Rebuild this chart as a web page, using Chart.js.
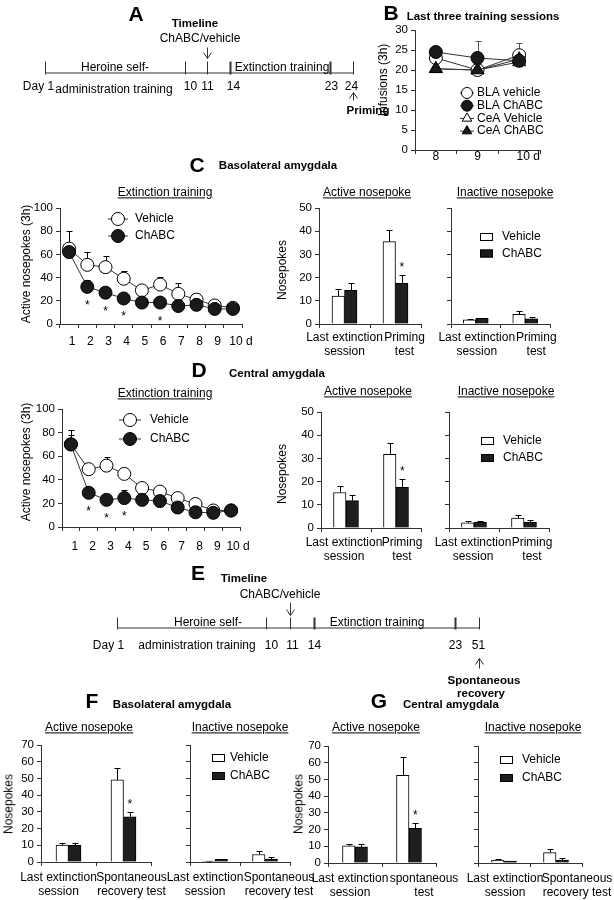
<!DOCTYPE html>
<html>
<head>
<meta charset="utf-8">
<script src="https://cdn.jsdelivr.net/npm/chart.js"></script>
<style>
html, body { margin: 0; padding: 0; background: #fff; }
#fig { position: relative; width: 614px; height: 900px; overflow: hidden; font-family: 'Liberation Sans', Arial, sans-serif; color: #000; }
#fig canvas { position: absolute; left: 0; top: 0; }
.t { position: absolute; white-space: nowrap; transform: translate(-50%, -50%); font-size: 12px; line-height: 1.1; }
.b { font-weight: bold; font-size: 11.5px; }
.u { text-decoration: underline; }
.big { font-size: 21px; font-weight: bold; }
.rot { transform: translate(-50%, -50%) rotate(-90deg); }
</style>
</head>
<body>
<div id="fig"></div>
<script>
// ---- data ----
const timelineADays = ['Day 1', '10', '11', '14', '23', '24'];
const timelineEDays = ['Day 1', '10', '11', '14', '23', '51'];

const trainDays = ['8', '9', '10 d'];
const blaVehTrain = [23, 20, 23.7];
const blaVehTrainErr = [0.8, 0.5, 3];
const blaChTrain = [24.5, 23, 22.3];
const blaChTrainErr = [0.5, 4.3, 0.8];
const ceaVehTrain = [20.3, 20, 22];
const ceaVehTrainErr = [0.8, 0.5, 0.8];
const ceaChTrain = [20.3, 20, 22.7];
const ceaChTrainErr = [0.8, 0.5, 0.8];

const extDays = ['1', '2', '3', '4', '5', '6', '7', '8', '9', '10 d'];
const blaExtVeh = [65, 51, 49, 39, 29, 34, 26, 21, 16, 14];
const blaExtVehErr = [15, 11, 10, 7, 3, 6.5, 9, 2, 2, 1];
const blaExtCh = [62, 32, 27, 22, 18.5, 18.5, 15.5, 16.5, 13, 13];
const blaExtChErr = [2, 5.6, 2, 2, 2, 2, 1, 1, 1, 1];
const blaExtSig = [1, 2, 3, 5];

const ceaExtVeh = [70, 49, 52, 45, 33, 30, 24.5, 19.5, 14, 14];
const ceaExtVehErr = [12.5, 3.5, 7.3, 3, 2, 2, 2, 2, 1, 1];
const ceaExtCh = [70, 29, 23, 24.5, 23, 22, 16.5, 12.5, 12, 14];
const ceaExtChErr = [8, 2, 2, 7, 2, 2, 2, 1, 1, 1];
const ceaExtSig = [1, 2, 3];

const primeCats = [['Last extinction', 'session'], ['Priming', 'test']];
const blaPrimeActVeh = [12, 35.5], blaPrimeActVehErr = [3, 5];
const blaPrimeActCh = [14.5, 17.5], blaPrimeActChErr = [3, 3.5];
const blaPrimeInVeh = [1.8, 4.2], blaPrimeInVehErr = [0.3, 1.2];
const blaPrimeInCh = [2.4, 2.2], blaPrimeInChErr = [0.2, 0.9];
const ceaPrimeActVeh = [15.3, 31.8], ceaPrimeActVehErr = [2.7, 4.7];
const ceaPrimeActCh = [11.8, 17.5], ceaPrimeActChErr = [2.5, 3.8];
const ceaPrimeInVeh = [2.2, 4.3], ceaPrimeInVehErr = [0.9, 1.3];
const ceaPrimeInCh = [2.6, 2.6], ceaPrimeInChErr = [0.5, 0.8];
const primeSig = [1];

const srCats = [['Last extinction', 'session'], ['Spontaneous', 'recovery test']];
const srCatsG = [['Last extinction', 'session'], ['spontaneous', 'test']];
const blaSrActVeh = [10.1, 49.1], blaSrActVehErr = [1.3, 7];
const blaSrActCh = [9.9, 27], blaSrActChErr = [1.5, 3];
const blaSrInVeh = [0.5, 4.5], blaSrInVehErr = [0.2, 1.8];
const blaSrInCh = [1.6, 1.8], blaSrInChErr = [0.3, 1.3];
const ceaSrActVeh = [10.3, 52.5], ceaSrActVehErr = [1.2, 11];
const ceaSrActCh = [9.7, 20.8], ceaSrActChErr = [1.4, 3.4];
const ceaSrInVeh = [1.8, 6.2], ceaSrInVehErr = [0.3, 2.1];
const ceaSrInCh = [1.1, 1.8], ceaSrInChErr = [0.3, 1.2];
const srSig = [1];

// ---- setup ----
const W = 614, H = 900;
const FONT = "'Liberation Sans', Arial, sans-serif";
const fig = document.getElementById('fig');
Chart.defaults.font.family = FONT;
Chart.defaults.font.size = 12;
Chart.defaults.color = '#000';
Chart.defaults.animation = false;
Chart.defaults.events = [];
Chart.defaults.plugins.legend.display = false;
Chart.defaults.plugins.tooltip.enabled = false;

function addChart(cfg) {
    const c = document.createElement('canvas');
    c.width = W;
    c.height = H;
    fig.appendChild(c);
    cfg.options.responsive = false;
    return new Chart(c, cfg);
}

function text(x, y, s, cls) {
    const d = document.createElement('div');
    d.className = 't ' + (cls || '');
    d.style.left = x + 'px';
    d.style.top = y + 'px';
    d.textContent = s;
    fig.appendChild(d);
}

// chart area given in page pixels, every canvas covers the whole page
function frame(area, yw, xh) {
    return {
        autoPadding: false,
        padding: { left: area.l - yw, top: area.t, right: W - area.r, bottom: H - area.b - xh }
    };
}

function yAxis(yw, max, step, labels) {
    return {
        min: 0, max: max,
        ticks: { stepSize: step, display: labels, autoSkip: false, padding: 3, font: { size: 11.5 } },
        grid: { drawOnChartArea: false, tickLength: 4, color: '#333' },
        border: { color: '#333' },
        afterFit: s => { s.width = yw; }
    };
}

function xAxis(xh) {
    return {
        offset: true,
        ticks: { display: false },
        grid: { offset: true, drawOnChartArea: false, tickLength: 4, color: '#333' },
        border: { color: '#333' },
        afterFit: s => { s.height = xh; }
    };
}

// ---- plugins ----
const errorBars = {
    id: 'errorBars',
    beforeDatasetsDraw(chart) {
        const ctx = chart.ctx;
        chart.data.datasets.forEach((ds, i) => {
            if (!ds.errors) return;
            const meta = chart.getDatasetMeta(i);
            const ys = chart.scales[meta.yAxisID];
            ctx.save();
            ctx.strokeStyle = ds.errorColor || '#000';
            ctx.lineWidth = 1;
            meta.data.forEach((el, j) => {
                const e = ds.errors[j];
                if (!e) return;
                const x = Math.round(el.x) + 0.5;
                const y0 = ys.getPixelForValue(ds.data[j]);
                const y1 = Math.round(ys.getPixelForValue(ds.data[j] + e)) + 0.5;
                ctx.beginPath();
                ctx.moveTo(x, y0);
                ctx.lineTo(x, y1);
                ctx.moveTo(x - 3, y1);
                ctx.lineTo(x + 3, y1);
                ctx.stroke();
            });
            ctx.restore();
        });
    }
};

const sigStars = {
    id: 'sigStars',
    afterDatasetsDraw(chart) {
        const ctx = chart.ctx;
        const isBar = chart.config.type === 'bar';
        chart.data.datasets.forEach((ds, i) => {
            if (!ds.sig) return;
            const meta = chart.getDatasetMeta(i);
            const ys = chart.scales[meta.yAxisID];
            ctx.save();
            ctx.fillStyle = '#000';
            ctx.font = '12px ' + FONT;
            ctx.textAlign = 'center';
            ctx.textBaseline = 'alphabetic';
            ds.sig.forEach(j => {
                const el = meta.data[j];
                let yc;
                if (isBar) yc = ys.getPixelForValue(ds.data[j] + ds.errors[j]) - 11;
                else yc = el.y + 15;
                ctx.fillText('*', el.x, yc + 7);
            });
            ctx.restore();
        });
    }
};

function xLabels(o) {
    return {
        id: 'xLabels',
        afterDraw(chart) {
            const xs = chart.scales.x, ctx = chart.ctx;
            ctx.save();
            ctx.fillStyle = '#000';
            ctx.font = '12px ' + FONT;
            ctx.textAlign = 'center';
            ctx.textBaseline = 'middle';
            chart.data.labels.forEach((lab, i) => {
                const lines = Array.isArray(lab) ? lab : [lab];
                const x = xs.getPixelForValue(i) + (o.dx ? o.dx[i] : 0);
                lines.forEach((s, k) => ctx.fillText(s, x, xs.top + o.y + k * 14));
            });
            ctx.restore();
        }
    };
}

function keyBox(o) {
    return {
        id: 'keyBox',
        afterDraw(chart) {
            const ctx = chart.ctx;
            ctx.save();
            ctx.font = '12px ' + FONT;
            ctx.textBaseline = 'middle';
            ctx.textAlign = 'left';
            chart.data.datasets.forEach((ds, i) => {
                const y = o.y + i * o.gap;
                if (o.kind === 'bar') {
                    ctx.fillStyle = ds.backgroundColor;
                    ctx.fillRect(o.x, y - 4, 13, 8);
                    ctx.strokeStyle = '#000';
                    ctx.lineWidth = 1;
                    ctx.strokeRect(o.x + 0.5, y - 3.5, 12, 7);
                } else {
                    ctx.strokeStyle = ds.borderColor;
                    ctx.lineWidth = 1;
                    ctx.beginPath();
                    ctx.moveTo(o.x - o.half, y);
                    ctx.lineTo(o.x + o.half, y);
                    ctx.stroke();
                    ctx.fillStyle = ds.pointBackgroundColor;
                    ctx.strokeStyle = ds.pointBorderColor;
                    Chart.helpers.drawPoint(ctx, {
                        pointStyle: ds.pointStyle || 'circle',
                        radius: o.r || ds.pointRadius,
                        rotation: 0,
                        borderWidth: 1
                    }, o.x, y);
                }
                ctx.fillStyle = '#000';
                ctx.fillText(ds.label, o.x + o.tx, y);
            });
            ctx.restore();
        }
    };
}

function timelineMarks(o) {
    return {
        id: 'timelineMarks',
        afterDraw(chart) {
            const xs = chart.scales.x, ctx = chart.ctx;
            const y0 = Math.round(chart.scales.y.getPixelForValue(0)) + 0.5;
            ctx.save();
            ctx.strokeStyle = '#333';
            ctx.fillStyle = '#000';
            ctx.font = '12px ' + FONT;
            ctx.textAlign = 'center';
            ctx.textBaseline = 'middle';
            o.ticks.forEach((t, i) => {
                const x = Math.round(xs.getPixelForValue(t.at)) + 0.5;
                ctx.lineWidth = t.bold ? 2 : 1;
                ctx.beginPath();
                ctx.moveTo(x, y0 + 1);
                ctx.lineTo(x, y0 - o.tick);
                ctx.stroke();
                ctx.fillText(o.labels[i], x + (t.dx || 0), y0 + o.labelDy);
            });
            ctx.lineWidth = 1;
            o.arrows.forEach(a => {
                const x = Math.round(xs.getPixelForValue(a.at)) + 0.5;
                const d = Math.sign(a.to - a.from);
                ctx.beginPath();
                ctx.moveTo(x, y0 + a.from);
                ctx.lineTo(x, y0 + a.to);
                ctx.moveTo(x - 4, y0 + a.to - d * 6);
                ctx.lineTo(x, y0 + a.to);
                ctx.lineTo(x + 4, y0 + a.to - d * 6);
                ctx.stroke();
            });
            ctx.restore();
        }
    };
}

// ---- timelines ----
function timeline(x0, len, y0, marks) {
    addChart({
        type: 'scatter',
        data: { datasets: [{ data: [{ x: 0, y: 0 }, { x: len, y: 0 }], showLine: true, borderColor: '#333', borderWidth: 1, pointRadius: 0 }] },
        options: {
            layout: { autoPadding: false, padding: { left: x0, right: W - x0 - len, top: y0 - 10, bottom: H - y0 - 10 } },
            scales: { x: { display: false, min: 0, max: len }, y: { display: false, min: -1, max: 1 } }
        },
        plugins: [timelineMarks(marks)]
    });
}

timeline(45, 308, 73, {
    labels: timelineADays, tick: 12, labelDy: 13,
    ticks: [{ at: 0, dx: -7 }, { at: 140, dx: 5 }, { at: 162 }, { at: 185, bold: true, dx: 3 }, { at: 285, bold: true, dx: 1 }, { at: 308, dx: -2 }],
    arrows: [{ at: 162, from: -26, to: -15 }, { at: 308, from: 27, to: 19 }]
});

timeline(117, 362, 628, {
    labels: timelineEDays, tick: 11, labelDy: 17,
    ticks: [{ at: 0, dx: -9 }, { at: 149, dx: 5 }, { at: 173, dx: 2 }, { at: 197, bold: true }, { at: 338, bold: true }, { at: 362, dx: -1 }],
    arrows: [{ at: 173, from: -26, to: -13 }, { at: 362, from: 40, to: 30 }]
});

// ---- line charts ----
function lineSet(label, data, errors, filled, style, r, order, extra) {
    return Object.assign({
        label: label, data: data, errors: errors, order: order,
        borderColor: '#333', borderWidth: 1, tension: 0, clip: false,
        pointStyle: style, pointRadius: r,
        pointBackgroundColor: filled ? '#1a1a1a' : '#fff',
        pointBorderColor: '#000', pointBorderWidth: 1
    }, extra || {});
}

// B: last three training sessions
const areaB = { l: 415, t: 30, r: 540, b: 150 };
addChart({
    type: 'line',
    data: {
        labels: trainDays,
        datasets: [
            lineSet('BLA vehicle', blaVehTrain, blaVehTrainErr, false, 'circle', 6.5, 2, { errorColor: '#555' }),
            lineSet('BLA ChABC', blaChTrain, blaChTrainErr, true, 'circle', 6.5, 0, { errorColor: '#555' }),
            lineSet('CeA Vehicle', ceaVehTrain, ceaVehTrainErr, false, 'triangle', 7.5, 3, { errorColor: '#555' }),
            lineSet('CeA ChABC', ceaChTrain, ceaChTrainErr, true, 'triangle', 7.5, 1, { errorColor: '#555' })
        ]
    },
    options: {
        layout: frame(areaB, 30, 6),
        scales: { x: xAxis(6), y: yAxis(30, 30, 5, true) }
    },
    plugins: [errorBars, xLabels({ y: 7, dx: [0, 0, 9] }), keyBox({ kind: 'line', x: 467, y: 93, gap: 12.7, half: 7, r: 5.5, tx: 10 })]
});

// C: basolateral extinction
addChart({
    type: 'line',
    data: {
        labels: extDays,
        datasets: [
            lineSet('Vehicle', blaExtVeh, blaExtVehErr, false, 'circle', 6.5, 1),
            lineSet('ChABC', blaExtCh, blaExtChErr, true, 'circle', 6.5, 0, { sig: blaExtSig })
        ]
    },
    options: {
        layout: frame({ l: 60, t: 208, r: 242, b: 324 }, 30, 6),
        scales: { x: xAxis(6), y: yAxis(30, 100, 20, true) }
    },
    plugins: [errorBars, sigStars, xLabels({ y: 18, dx: [3, 3, 3, 3, 3, 3, 3, 3, 3, 8] }), keyBox({ kind: 'line', x: 118, y: 219, gap: 17, half: 10, tx: 17 })]
});

// D: central extinction
addChart({
    type: 'line',
    data: {
        labels: extDays,
        datasets: [
            lineSet('Vehicle', ceaExtVeh, ceaExtVehErr, false, 'circle', 6.5, 1),
            lineSet('ChABC', ceaExtCh, ceaExtChErr, true, 'circle', 6.5, 0, { sig: ceaExtSig })
        ]
    },
    options: {
        layout: frame({ l: 62, t: 409, r: 240, b: 527 }, 31, 6),
        scales: { x: xAxis(6), y: yAxis(31, 100, 20, true) }
    },
    plugins: [errorBars, sigStars, xLabels({ y: 20, dx: [4, 4, 4, 4, 4, 4, 4, 4, 4, 7] }), keyBox({ kind: 'line', x: 130, y: 420, gap: 19, half: 11, tx: 20 })]
});

// ---- bar charts ----
function barChart(area, cats, veh, vehErr, ch, chErr, sig, max, step, labels, lab, key) {
    addChart({
        type: 'bar',
        data: {
            labels: cats,
            datasets: [
                { label: 'Vehicle', data: veh, errors: vehErr, backgroundColor: '#fff', borderColor: '#000', borderWidth: 1, barThickness: 12.5 },
                { label: 'ChABC', data: ch, errors: chErr, sig: sig, backgroundColor: '#1e1e1e', borderColor: '#000', borderWidth: 1, barThickness: 12.5 }
            ]
        },
        options: {
            layout: frame(area, 30, 6),
            scales: { x: xAxis(6), y: yAxis(30, max, step, labels) }
        },
        plugins: [errorBars, sigStars, xLabels(lab)].concat(key ? [keyBox(key)] : [])
    });
}

barChart({ l: 319, t: 208, r: 421, b: 324 }, primeCats, blaPrimeActVeh, blaPrimeActVehErr, blaPrimeActCh, blaPrimeActChErr, primeSig,
    50, 10, true, { y: 14, dx: [0, 9] });
barChart({ l: 451, t: 208, r: 550, b: 324 }, primeCats, blaPrimeInVeh, blaPrimeInVehErr, blaPrimeInCh, blaPrimeInChErr, null,
    50, 10, false, { y: 14, dx: [1, 11] }, { kind: 'bar', x: 480, y: 237, gap: 16.5, tx: 22 });
barChart({ l: 321, t: 412, r: 421, b: 528 }, primeCats, ceaPrimeActVeh, ceaPrimeActVehErr, ceaPrimeActCh, ceaPrimeActChErr, primeSig,
    50, 10, true, { y: 15, dx: [-2, 6] });
barChart({ l: 449, t: 412, r: 549, b: 528 }, primeCats, ceaPrimeInVeh, ceaPrimeInVehErr, ceaPrimeInCh, ceaPrimeInChErr, null,
    50, 10, false, { y: 15, dx: [-1, 8] }, { kind: 'bar', x: 481, y: 441, gap: 17, tx: 22 });

barChart({ l: 41, t: 745, r: 151, b: 862 }, srCats, blaSrActVeh, blaSrActVehErr, blaSrActCh, blaSrActChErr, srSig,
    70, 10, true, { y: 16, dx: [-10, 8] });
barChart({ l: 190, t: 745, r: 290, b: 862 }, srCats, blaSrInVeh, blaSrInVehErr, blaSrInCh, blaSrInChErr, null,
    70, 10, false, { y: 16, dx: [-10, 14] }, { kind: 'bar', x: 212, y: 758, gap: 18, tx: 18 });
barChart({ l: 328, t: 746, r: 436, b: 863 }, srCatsG, ceaSrActVeh, ceaSrActVehErr, ceaSrActCh, ceaSrActChErr, srSig,
    70, 10, true, { y: 16, dx: [-5, 15] });
barChart({ l: 478, t: 746, r: 582, b: 863 }, srCats, ceaSrInVeh, ceaSrInVehErr, ceaSrInCh, ceaSrInChErr, null,
    70, 10, false, { y: 16, dx: [1, 21] }, { kind: 'bar', x: 500, y: 760, gap: 18, tx: 22 });

// ---- text ----
[
    [136, 14, 'A', 'big'], [391, 13, 'B', 'big'], [197, 165, 'C', 'big'], [199, 370, 'D', 'big'],
    [198, 573, 'E', 'big'], [92, 701, 'F', 'big'], [379, 701, 'G', 'big'],
    [195, 23, 'Timeline', 'b'], [200, 39, 'ChABC/vehicle', ''],
    [115, 68, 'Heroine self-', ''], [114, 90, 'administration training', ''], [282, 68, 'Extinction training', ''],
    [368, 110, 'Priming', 'b'],
    [483, 16, 'Last three training sessions', 'b'],
    [278, 165, 'Basolateral amygdala', 'b'], [277, 373, 'Central amygdala', 'b'],
    [244, 578, 'Timeline', 'b'], [280, 595, 'ChABC/vehicle', ''],
    [208, 623, 'Heroine self-', ''], [197, 646, 'administration training', ''], [377, 623, 'Extinction training', ''],
    [484, 680, 'Spontaneous', 'b'], [481, 693, 'recovery', 'b'],
    [172, 704, 'Basolateral amygdala', 'b'], [451, 704, 'Central amygdala', 'b'],
    [165, 193, 'Extinction training', 'u'], [367, 193, 'Active nosepoke', 'u'], [505, 193, 'Inactive nosepoke', 'u'],
    [165, 394, 'Extinction training', 'u'], [368, 392, 'Active nosepoke', 'u'], [506, 392, 'Inactive nosepoke', 'u'],
    [89, 728, 'Active nosepoke', 'u'], [240, 728, 'Inactive nosepoke', 'u'],
    [376, 728, 'Active nosepoke', 'u'], [533, 728, 'Inactive nosepoke', 'u'],
    [384, 80, 'Infusions (3h)', 'rot'],
    [27, 264, 'Active nosepokes (3h)', 'rot'], [283, 270, 'Nosepokes', 'rot'],
    [27, 462, 'Active nosepokes (3h)', 'rot'], [283, 474, 'Nosepokes', 'rot'],
    [9, 804, 'Nosepokes', 'rot'], [299, 804, 'Nosepokes', 'rot']
].forEach(t => text(t[0], t[1], t[2], t[3]));
</script>
</body>
</html>
